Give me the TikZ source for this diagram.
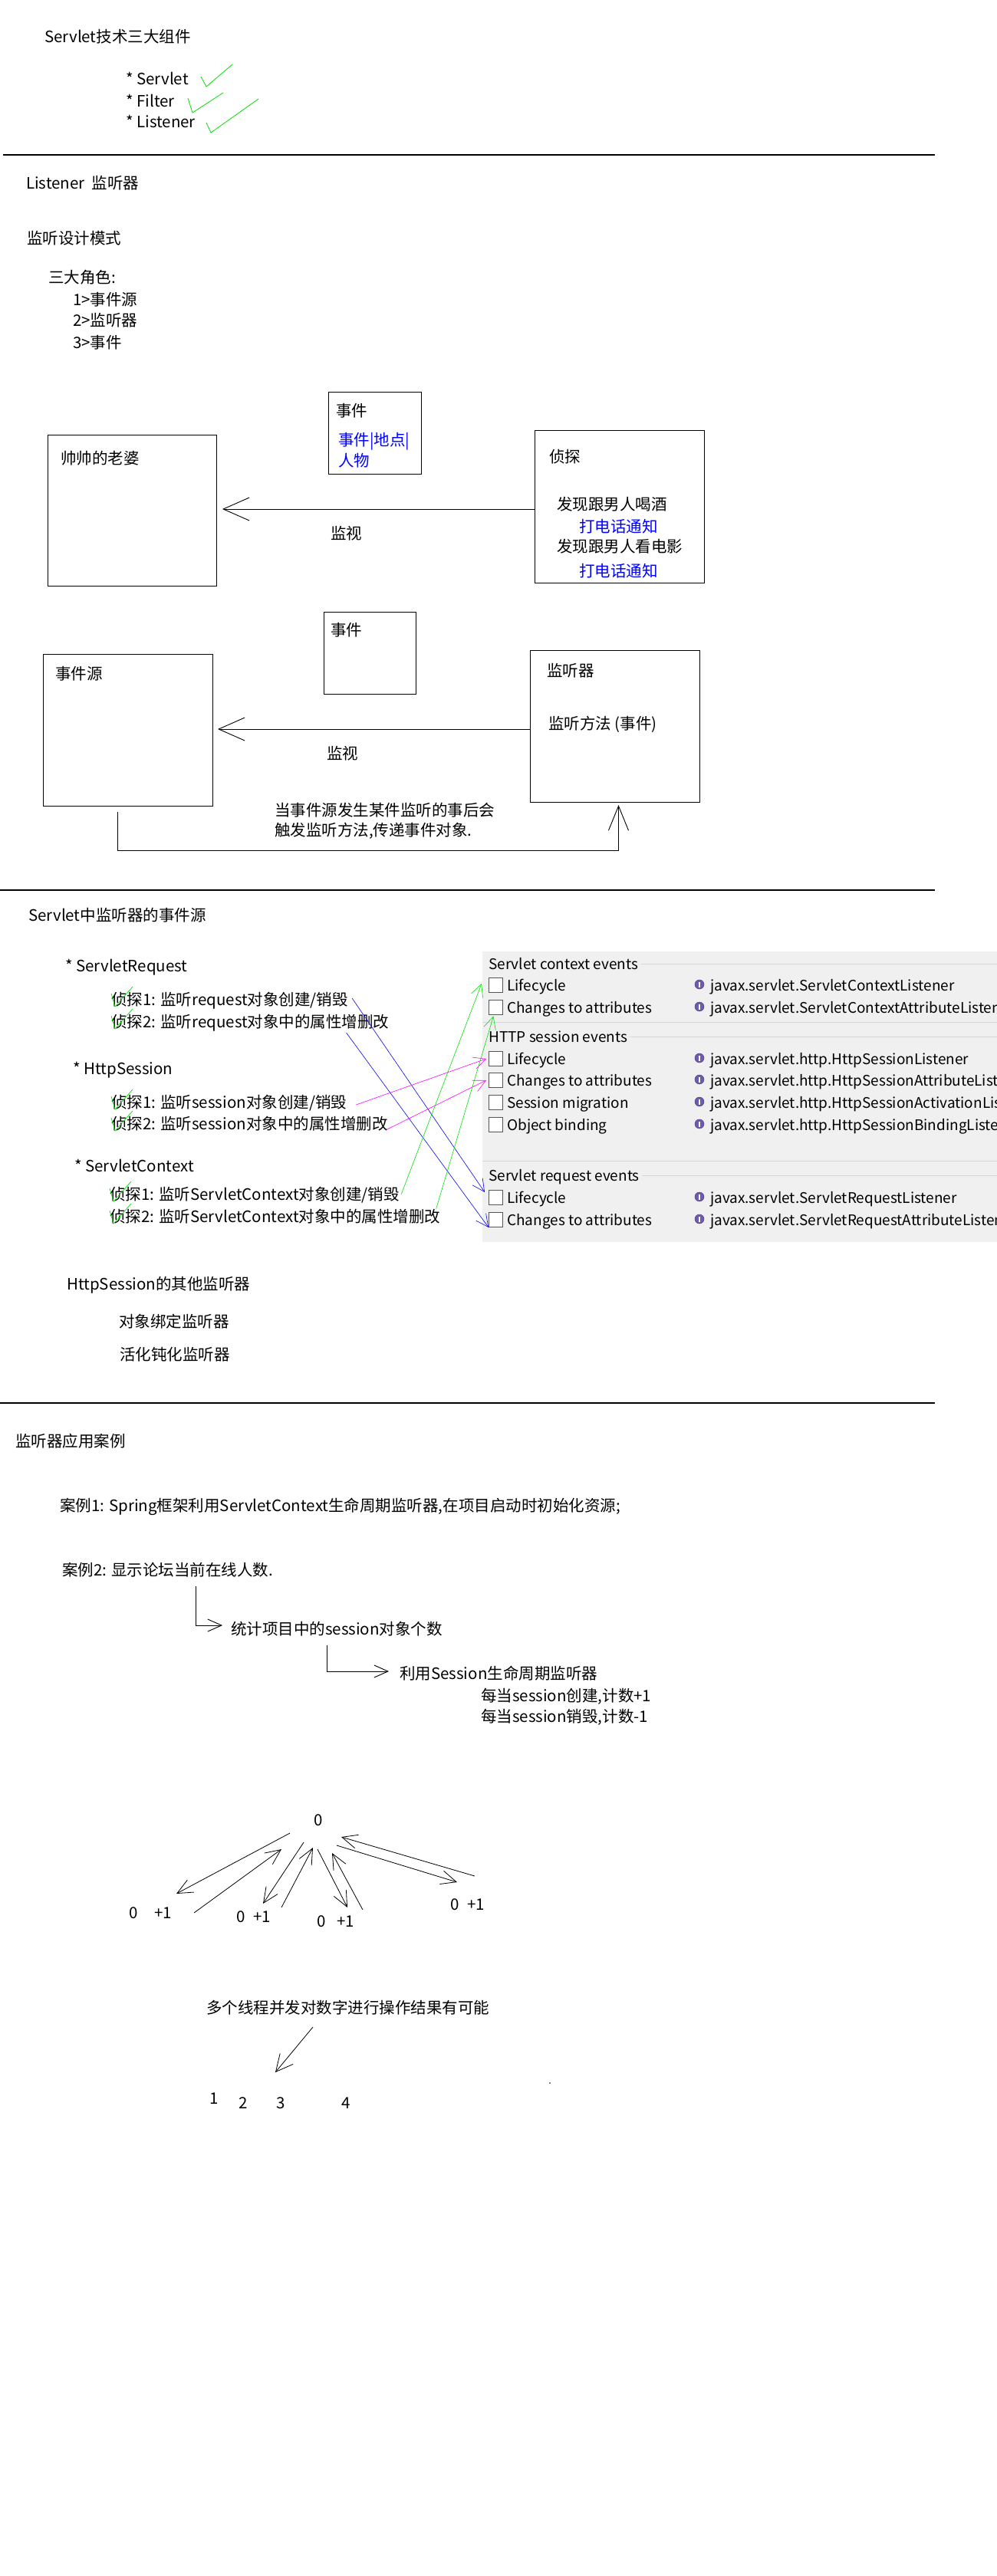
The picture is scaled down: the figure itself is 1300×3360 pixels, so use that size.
\documentclass[tikz,border=0pt]{standalone}
\usepackage{fontspec}
\setmainfont{Noto Sans CJK SC}
\usetikzlibrary{arrows.meta}
\definecolor{cblue}{HTML}{0000FF}
\definecolor{cmag}{HTML}{FF00FF}
\definecolor{cgreen}{HTML}{00E000}
\definecolor{pgray}{HTML}{F0F0F0}
\definecolor{plinec}{HTML}{D5D5D5}
\definecolor{iconp}{HTML}{6E5BB0}
\definecolor{cbdraw}{HTML}{555555}
\newcommand{\greenchk}[1]{\draw[cgreen,line width=0.7pt] ([shift={(0pt,8pt)}]#1.west) -- ([shift={(5pt,-9pt)}]#1.west) -- ([shift={(28pt,17pt)}]#1.west);}
\begin{document}
\begin{tikzpicture}[x=1pt,y=-1pt,
  txt/.style={anchor=west, inner sep=0pt, font=\fontsize{20.5pt}{24pt}\selectfont, text height=15.6pt, text depth=0pt},
  ptxt/.style={anchor=west, inner sep=0pt, font=\fontsize{19pt}{22pt}\selectfont, text height=14.4pt, text depth=0pt},
  boxst/.style={draw, line width=1pt, anchor=north west, inner sep=0pt},
  sepline/.style={line width=1.3pt},
  bigarr/.style={line width=0.9pt, -{Straight Barb[length=34pt,width=30pt]}},
  midarr/.style={line width=0.9pt, -{Straight Barb[length=18pt,width=16pt]}},
  numarr/.style={line width=0.8pt, -{Straight Barb[length=20pt,width=18pt]}},
  thinarr/.style={line width=0.6pt, -{Straight Barb[length=16pt,width=16pt]}},
  grn/.style={cgreen, line width=0.8pt},
  cbox/.style={draw=cbdraw, fill=white, line width=0.8pt, minimum width=18pt, minimum height=19pt, inner sep=0pt, anchor=west},
  icon/.style={circle, fill=iconp, draw=iconp!70!black, line width=0.5pt, minimum size=12pt, inner sep=0pt,
    path picture={\draw[white,line width=1.6pt] ([yshift=-3.5pt]path picture bounding box.center) -- ([yshift=3.5pt]path picture bounding box.center);}},
  plin/.style={plinec, line width=1pt}
]
\useasboundingbox (0,0) rectangle (1300,3360);
\fill[white] (0,0) rectangle (1300,3360);

% ---------- section 1 ----------
\node[txt] (t1) at (58,48) {Servlet技术三大组件};
\node[txt] (c1) at (164,103) {* Servlet};
\node[txt] (c2) at (164,132) {* Filter};
\node[txt] (c3) at (164,159) {* Listener};
\draw[grn] (262,100) -- (269,113) -- (303,84);
\draw[grn] (245,128) -- (251,147) -- (291,121);
\draw[grn] (269,160) -- (275,173) -- (337,129);
\draw[sepline] (4,202) -- (1219,202);

\node[txt] (lh) at (34,239) {Listener\hspace{9pt}监听器};
\node[txt] (dm) at (35,311) {监听设计模式};
\node[txt] (roles) at (63,362) {三大角色:};
\node[txt] (ro1) at (95,391) {1>事件源};
\node[txt] (ro2) at (95,418) {2>监听器};
\node[txt] (ro3) at (95,447) {3>事件};

% ---------- section 2 ----------
\node[boxst, minimum width=121pt, minimum height=107pt] (ev1) at (428,511) {};
\node[txt] (ev1t) at (438,536) {事件};
\node[txt, text=cblue] (ev1b) at (441,574) {事件|地点|};
\node[txt, text=cblue] (ev1c) at (441,601) {人物};

\node[boxst, minimum width=220pt, minimum height=197pt] (wife) at (62,567) {};
\node[txt] (wifet) at (79,598) {帅帅的老婆};

\node[boxst, minimum width=221pt, minimum height=199pt] (det) at (697,561) {};
\node[txt] (dett) at (716,596) {侦探};
\node[txt] (d1) at (726,658) {发现跟男人喝酒};
\node[txt, text=cblue] (d2) at (755,687) {打电话通知};
\node[txt] (d3) at (726,713) {发现跟男人看电影};
\node[txt, text=cblue] (d4) at (755,745) {打电话通知};

\coordinate (a1e) at (290,664);
\draw[bigarr] (det.west |- a1e) -- (a1e);
\node[txt] (mon1) at (431,696) {监视};

\node[boxst, minimum width=120pt, minimum height=107pt] (ev2) at (422,798) {};
\node[txt] (ev2t) at (431,822) {事件};

\node[boxst, minimum width=221pt, minimum height=198pt] (src) at (56,853) {};
\node[txt] (srct) at (72,879) {事件源};

\node[boxst, minimum width=221pt, minimum height=198pt] (lis) at (691,848) {};
\node[txt] (list) at (713,875) {监听器};
\node[txt] (lism) at (715,944) {监听方法 (事件)};

\coordinate (a2e) at (284,951);
\draw[bigarr] (lis.west |- a2e) -- (a2e);
\node[txt] (mon2) at (426,983) {监视};

\node[txt] (note1) at (358,1057) {当事件源发生某件监听的事后会};
\node[txt] (note2) at (358,1083) {触发监听方法,传递事件对象.};

\coordinate (fb) at ([xshift=-13.5pt,yshift=-7pt]src.south);
\coordinate (ft) at ([xshift=4.5pt,yshift=-3pt]lis.south);
\coordinate (fy) at (0,1109);
\draw[line width=0.9pt, -{Straight Barb[length=32pt,width=26pt]}] (fb) |- (ft |- fy) -- (ft);

\draw[sepline] (0,1161) -- (1219,1161);

% ---------- section 3 ----------
\node[txt] (h3) at (37,1194) {Servlet中监听器的事件源};
\node[txt] (sr) at (85,1260) {* ServletRequest};
\node[txt] (r1) at (145,1304) {侦探1: 监听request对象创建/销毁};
\node[txt] (r2) at (145,1333) {侦探2: 监听request对象中的属性增删改};
\node[txt] (hs) at (95,1394) {* HttpSession};
\node[txt] (s1) at (145,1438) {侦探1: 监听session对象创建/销毁};
\node[txt] (s2) at (145,1466) {侦探2: 监听session对象中的属性增删改};
\node[txt] (sc) at (97,1521) {* ServletContext};
\node[txt] (x1) at (143,1558) {侦探1: 监听ServletContext对象创建/销毁};
\node[txt] (x2) at (143,1587) {侦探2: 监听ServletContext对象中的属性增删改};
\greenchk{r1}
\greenchk{r2}
\greenchk{s1}
\greenchk{s2}
\greenchk{x1}
\greenchk{x2}

% panel
\fill[pgray] (629,1241) rectangle (1300,1620);
\coordinate (pr) at (1300,0);
\node[ptxt] (gctx) at (637,1257) {Servlet context events};
\draw[plin] ([xshift=3pt]gctx.east) -- (gctx.east -| pr);
\node[cbox] (cbCL) at (637,1285) {};
\node[ptxt] at (661,1285) {Lifecycle};
\node[icon] at (912,1284) {};
\node[ptxt] at (926,1285) {javax.servlet.ServletContextListener};
\node[cbox] (cbCC) at (637,1314) {};
\node[ptxt] at (661,1314) {Changes to attributes};
\node[icon] at (912,1313) {};
\node[ptxt] at (926,1314) {javax.servlet.ServletContextAttributeListener};
\draw[plin] (629,1333) -- (1300,1333);

\node[ptxt] (ghttp) at (637,1352) {HTTP session events};
\draw[plin] ([xshift=3pt]ghttp.east) -- (ghttp.east -| pr);
\node[cbox] (cbHL) at (637,1381) {};
\node[ptxt] at (661,1381) {Lifecycle};
\node[icon] at (912,1380) {};
\node[ptxt] at (926,1381) {javax.servlet.http.HttpSessionListener};
\node[cbox] (cbHC) at (637,1409) {};
\node[ptxt] at (661,1409) {Changes to attributes};
\node[icon] at (912,1408) {};
\node[ptxt] at (926,1409) {javax.servlet.http.HttpSessionAttributeListener};
\node[cbox] (cbHM) at (637,1438) {};
\node[ptxt] at (661,1438) {Session migration};
\node[icon] at (912,1437) {};
\node[ptxt] at (926,1438) {javax.servlet.http.HttpSessionActivationListener};
\node[cbox] (cbHO) at (637,1467) {};
\node[ptxt] at (661,1467) {Object binding};
\node[icon] at (912,1466) {};
\node[ptxt] at (926,1467) {javax.servlet.http.HttpSessionBindingListener};
\draw[plin] (629,1514) -- (1300,1514);

\node[ptxt] (greq) at (637,1533) {Servlet request events};
\draw[plin] ([xshift=3pt]greq.east) -- (greq.east -| pr);
\node[cbox] (cbRL) at (637,1562) {};
\node[ptxt] at (661,1562) {Lifecycle};
\node[icon] at (912,1561) {};
\node[ptxt] at (926,1562) {javax.servlet.ServletRequestListener};
\node[cbox] (cbRC) at (637,1591) {};
\node[ptxt] at (661,1591) {Changes to attributes};
\node[icon] at (912,1590) {};
\node[ptxt] at (926,1591) {javax.servlet.ServletRequestAttributeListener};

% connectors
\draw[thinarr, cblue] ([xshift=5pt,yshift=2pt]r1.east) -- ([xshift=-5pt,yshift=7pt]cbRL.west);
\draw[thinarr, cblue] ([xshift=-56pt,yshift=-14pt]r2.east) -- (cbRC.south west);
\draw[thinarr, cmag] ([xshift=12pt,yshift=-3pt]s1.east) -- ([xshift=-3pt]cbHL.west);
\draw[thinarr, cmag] ([xshift=-1pt,yshift=-7pt]s2.east) -- ([xshift=-3pt]cbHC.west);
\draw[thinarr, cgreen] ([xshift=2pt]x1.east) -- ([xshift=-9pt,yshift=2pt]cbCL.west);
\draw[thinarr, cgreen] ([xshift=-6pt,yshift=10pt]x2.east) -- ([xshift=-3pt,yshift=-1.5pt]cbCC.south);

% ---------- section 4 ----------
\node[txt] (ho) at (87,1675) {HttpSession的其他监听器};
\node[txt] (ob) at (155,1724) {对象绑定监听器};
\node[txt] (ac) at (156,1767) {活化钝化监听器};
\draw[sepline] (0,1830) -- (1219,1830);

% ---------- section 5 ----------
\node[txt] (h5) at (20,1880) {监听器应用案例};
\node[txt] (k1) at (78,1964) {案例1: Spring框架利用ServletContext生命周期监听器,在项目启动时初始化资源;};
\node[txt] (k2) at (81,2048) {案例2: 显示论坛当前在线人数.};
\node[txt] (stat) at (301,2125) {统计项目中的session对象个数};
\node[txt] (use) at (521,2183) {利用Session生命周期监听器};
\node[txt] (p1) at (627,2212) {每当session创建,计数+1};
\node[txt] (p2) at (627,2239) {每当session销毁,计数-1};
\coordinate (e1s) at (255,2069);
\coordinate (e1t) at ([xshift=-11pt,yshift=5pt]stat.west);
\draw[midarr] (e1s) |- (e1t);
\coordinate (e2s) at (426,2146);
\coordinate (e2t) at ([xshift=-14pt,yshift=3pt]use.west);
\draw[midarr] (e2s) |- (e2t);

% ---------- section 6 ----------
\node[txt, anchor=center] (zero) at (415,2374) {0};
\node[txt] (l1) at (168,2495) {0\hspace{22pt}+1};
\node[txt] (l2) at (308,2500) {0\hspace{11pt}+1};
\node[txt] (l3) at (413,2506) {0\hspace{15pt}+1};
\node[txt] (l4) at (587,2484) {0\hspace{11pt}+1};
\coordinate (aa1) at (378,2391); \coordinate (aa2) at (230,2470);
\coordinate (ab1) at (253,2495); \coordinate (ab2) at (367,2412);
\coordinate (ac1) at (396,2403); \coordinate (ac2) at (343,2483);
\coordinate (ad1) at (367,2488); \coordinate (ad2) at (408,2410);
\coordinate (ae1) at (414,2412); \coordinate (ae2) at (453,2488);
\coordinate (af1) at (473,2491); \coordinate (af2) at (433,2417);
\coordinate (ag1) at (619,2447); \coordinate (ag2) at (445,2396);
\coordinate (ah1) at (439,2407); \coordinate (ah2) at (596,2455);
\draw[numarr] (aa1) -- (aa2);
\draw[numarr] (ab1) -- (ab2);
\draw[numarr] (ac1) -- (ac2);
\draw[numarr] (ad1) -- (ad2);
\draw[numarr] (ae1) -- (ae2);
\draw[numarr] (af1) -- (af2);
\draw[numarr] (ag1) -- (ag2);
\draw[numarr] (ah1) -- (ah2);

\node[txt] (multi) at (269,2619) {多个线程并发对数字进行操作结果有可能};
\coordinate (mz1) at (408,2644); \coordinate (mz2) at (359,2703);
\draw[line width=0.8pt, -{Straight Barb[length=22pt,width=22pt]}] (mz1) -- (mz2);
\node[txt] (n1) at (273,2737) {1};
\node[txt] (n2) at (311,2743) {2};
\node[txt] (n3) at (360,2743) {3};
\node[txt] (n4) at (445,2743) {4};
\fill (717,2717) circle (0.8);
\end{tikzpicture}
\end{document}
